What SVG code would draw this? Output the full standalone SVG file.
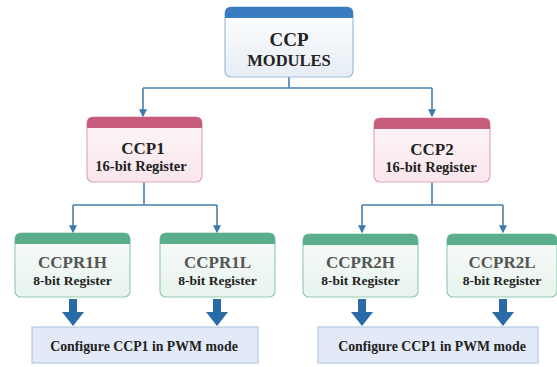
<svg xmlns="http://www.w3.org/2000/svg" width="557" height="367" viewBox="0 0 557 367">
<defs>
<linearGradient id="gBlue" x1="0" y1="0" x2="0" y2="1"><stop offset="0" stop-color="#ffffff"/><stop offset="1" stop-color="#e6edf5"/></linearGradient>
<linearGradient id="gPink" x1="0" y1="0" x2="0" y2="1"><stop offset="0" stop-color="#fdf6f8"/><stop offset="1" stop-color="#f8e6ec"/></linearGradient>
<linearGradient id="gGreen" x1="0" y1="0" x2="0" y2="1"><stop offset="0" stop-color="#f7fbf9"/><stop offset="1" stop-color="#e8f4ee"/></linearGradient>
<marker id="ah" viewBox="0 0 6 6" refX="5" refY="3" markerWidth="5" markerHeight="5" orient="auto"><path d="M0,0 L6,3 L0,6 z" fill="#3f78aa"/></marker>
</defs>
<style>
text{font-weight:bold;text-anchor:middle;fill:#222}
.conn{stroke:#4a7fae;stroke-width:1.6;fill:none}
.big{fill:#2a6aa6}
.t1{font-size:19px}
.t2{font-size:16.5px}
.t3{font-size:17px}
.t4{font-size:14.5px}
.t5{font-size:13.5px}
.t6{font-size:13.8px}
.g{fill:#555}
</style>
<rect width="557" height="367" fill="#ffffff"/>
<g id="connectors">
<path class="conn" d="M289,77 V88 M143,88 H432"/>
<path class="conn" d="M143,88 V116" marker-end="url(#ah)"/>
<path class="conn" d="M432,88 V116" marker-end="url(#ah)"/>
<path class="conn" d="M144,182 V205 M73,205 H217 M432,182 V205 M362,205 H503"/>
<path class="conn" d="M73,205 V232" marker-end="url(#ah)"/>
<path class="conn" d="M217,205 V232" marker-end="url(#ah)"/>
<path class="conn" d="M362,205 V232" marker-end="url(#ah)"/>
<path class="conn" d="M503,205 V232" marker-end="url(#ah)"/>
<path class="big" d="M69,299 H77 V312 H84 L73,326 L62,312 H69 Z"/>
<path class="big" d="M213,299 H221 V312 H228 L217,326 L206,312 H213 Z"/>
<path class="big" d="M358,299 H366 V312 H373 L362,326 L351,312 H358 Z"/>
<path class="big" d="M499,299 H507 V312 H514 L503,326 L492,312 H499 Z"/>
</g>
<g font-family="Liberation Serif">
<g id="ccp">
<rect x="225" y="7" width="128" height="70" rx="6" fill="url(#gBlue)" stroke="#9fbbd8" stroke-width="1.2"/>
<path d="M225,18 V13 Q225,7 231,7 H347 Q353,7 353,13 V18 Z" fill="#3a7cc0"/>
<text class="t1" x="289" y="46" font-family="Liberation Serif">CCP</text>
<text class="t2" x="289" y="66" font-family="Liberation Serif">MODULES</text>
</g>
<g id="ccp1">
<rect x="87" y="117" width="115" height="65" rx="6" fill="url(#gPink)" stroke="#e0a9bb" stroke-width="1.2"/>
<path d="M87,128 V123 Q87,117 93,117 H196 Q202,117 202,123 V128 Z" fill="#c65b7c"/>
<text class="t3" x="143" y="154" font-family="Liberation Serif">CCP1</text>
<text class="t4" x="141" y="171" font-family="Liberation Serif">16-bit Register</text>
</g>
<g id="ccp2">
<rect x="374" y="118" width="116" height="64" rx="6" fill="url(#gPink)" stroke="#e0a9bb" stroke-width="1.2"/>
<path d="M374,129 V124 Q374,118 380,118 H484 Q490,118 490,124 V129 Z" fill="#c65b7c"/>
<text class="t3" x="432" y="155" font-family="Liberation Serif">CCP2</text>
<text class="t4" x="431" y="172" font-family="Liberation Serif">16-bit Register</text>
</g>
<g id="ccpr1h">
<rect x="15" y="233" width="115" height="64" rx="6" fill="url(#gGreen)" stroke="#94cdb3" stroke-width="1.2"/>
<path d="M15,244 V239 Q15,233 21,233 H124 Q130,233 130,239 V244 Z" fill="#5bae8b"/>
<text class="t3 g" x="72.5" y="268" font-family="Liberation Serif">CCPR1H</text>
<text class="t5" x="72.5" y="285" font-family="Liberation Serif">8-bit Register</text>
</g>
<g id="ccpr1l">
<rect x="160" y="233" width="115" height="64" rx="6" fill="url(#gGreen)" stroke="#94cdb3" stroke-width="1.2"/>
<path d="M160,244 V239 Q160,233 166,233 H269 Q275,233 275,239 V244 Z" fill="#5bae8b"/>
<text class="t3 g" x="217.5" y="268" font-family="Liberation Serif">CCPR1L</text>
<text class="t5" x="217.5" y="285" font-family="Liberation Serif">8-bit Register</text>
</g>
<g id="ccpr2h">
<rect x="303" y="234" width="115" height="63" rx="6" fill="url(#gGreen)" stroke="#94cdb3" stroke-width="1.2"/>
<path d="M303,245 V240 Q303,234 309,234 H412 Q418,234 418,240 V245 Z" fill="#5bae8b"/>
<text class="t3 g" x="360.5" y="268" font-family="Liberation Serif">CCPR2H</text>
<text class="t5" x="360.5" y="285" font-family="Liberation Serif">8-bit Register</text>
</g>
<g id="ccpr2l">
<rect x="447" y="234" width="110" height="63" rx="6" fill="url(#gGreen)" stroke="#94cdb3" stroke-width="1.2"/>
<path d="M447,245 V240 Q447,234 453,234 H551 Q557,234 557,240 V245 Z" fill="#5bae8b"/>
<text class="t3 g" x="502" y="268" font-family="Liberation Serif">CCPR2L</text>
<text class="t5" x="502" y="285" font-family="Liberation Serif">8-bit Register</text>
</g>
<g id="config1">
<rect x="32" y="327" width="226" height="36" fill="#e1eaf6" stroke="#b3c9e4" stroke-width="1.2"/>
<text class="t6" x="144" y="351" font-family="Liberation Serif">Configure CCP1 in PWM mode</text>
</g>
<g id="config2">
<rect x="318" y="327" width="220" height="36" fill="#e1eaf6" stroke="#b3c9e4" stroke-width="1.2"/>
<text class="t6" x="432" y="351" font-family="Liberation Serif">Configure CCP1 in PWM mode</text>
</g>
</g>
</svg>
